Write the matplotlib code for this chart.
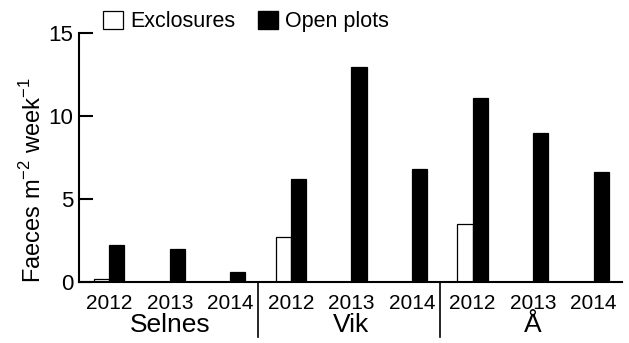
import matplotlib
matplotlib.use("Agg")
import matplotlib.pyplot as plt
from matplotlib.patches import Patch
import numpy as np

plt.rcParams['font.family'] = ['Liberation Sans', 'DejaVu Sans']

sites = ["Selnes", "Vik", "Å"]
years = ["2012", "2013", "2014"]
exclosures = [0.2, 0.0, 0.0, 2.7, 0.0, 0.0, 3.5, 0.0, 0.0]
open_plots = [2.2, 2.0, 0.6, 6.2, 12.95, 6.8, 11.1, 8.95, 6.65]

fig = plt.figure(figsize=(6.29, 3.43), dpi=100)
ax = fig.add_axes([0.1256, 0.178, 0.8634, 0.726])

x = np.arange(len(open_plots))
w = 0.25
ax.bar(x - w/2, exclosures, width=w, color="white", edgecolor="black", linewidth=0.9)
ax.bar(x + w/2, open_plots, width=w, color="black", edgecolor="black", linewidth=0.9)

ax.set_xlim(-0.5, 8.47)
ax.set_ylim(0, 15)
ax.set_yticks([0, 5, 10, 15])
ax.tick_params(axis='y', direction='in', length=10, width=1.5, labelsize=16, pad=4)
ax.set_xticks(x)
ax.set_xticklabels(years * 3, fontsize=15)
ax.tick_params(axis='x', length=0, pad=9)
for s in ["top", "right"]:
    ax.spines[s].set_visible(False)
ax.spines["left"].set_linewidth(1.5)
ax.spines["bottom"].set_linewidth(1.5)

ax.set_ylabel("Faeces m$^{\\mathregular{-2}}$ week$^{\\mathregular{-1}}$", fontsize=17)
ax.yaxis.set_label_coords(-0.085, 0.41)
ax.yaxis.label.set_va("center")

trans = ax.get_xaxis_transform()
for i, s in enumerate(sites):
    ax.text(3*i + 1, -0.173, s, transform=trans, ha="center", va="center", fontsize=19)
for d in [2.46, 5.46]:
    ax.plot([d, d], [0, -0.22], transform=trans, color="black", lw=1.2, clip_on=False)

handles = [Patch(facecolor="white", edgecolor="black", linewidth=0.9, label="Exclosures"),
           Patch(facecolor="black", edgecolor="black", label="Open plots")]
fig.legend(handles=handles, loc="center left", bbox_to_anchor=(103/629, 0.936), ncol=2,
           frameon=False, fontsize=15.5, handlelength=0.93, handleheight=0.85,
           handletextpad=0.33, columnspacing=1.07, borderaxespad=0, borderpad=0)

fig.savefig("out.png", dpi=100)
